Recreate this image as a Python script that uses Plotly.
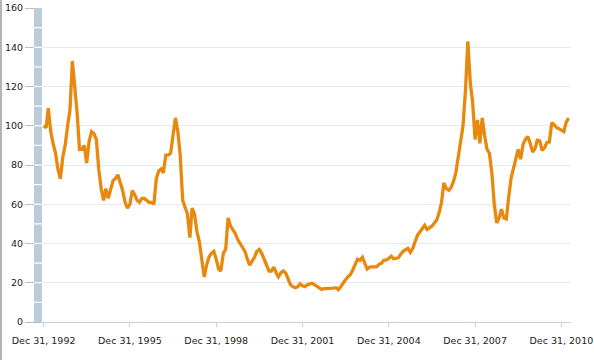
import pandas as pd
import plotly.graph_objects as go

# Monthly index values (month-end), Dec 1992 .. Mar 2011
values = [
    100, 99, 109, 97, 91, 86, 78, 73, 84, 90,
    100, 108, 133, 119, 107, 88, 88, 90, 81, 92,
    97, 96, 93, 78, 68, 62, 68, 63, 68, 72,
    73, 75, 71, 67, 61, 58, 60, 67, 65, 62,
    61, 63, 63, 62, 61, 61, 60, 73, 77, 78,
    76, 85, 85, 86, 94, 104, 97, 85, 62, 58,
    55, 43, 58, 55, 46, 41, 32, 23, 29, 33,
    35, 36, 32, 27, 26, 35, 37, 53, 49, 47,
    45, 42, 40, 38, 36, 32, 29, 31, 33, 36,
    37, 35, 32, 30, 26, 26, 28, 25, 23, 25,
    26, 25, 22, 19, 18, 17.5, 18, 19.5, 18.5, 18,
    19, 19.5, 19.7, 19, 18.3, 17.5, 16.6, 17, 17, 17.3,
    17, 17.3, 17.5, 16.5, 18, 20, 21.5, 23, 24.2, 26.5,
    29.5, 32, 31.5, 33, 30, 27, 28, 28, 27.8, 28.2,
    29.5, 30, 31.5, 31.5, 32.5, 33.5, 32.2, 32.3, 32.7, 34.5,
    36, 36.8, 37.5, 35.5, 37.5, 41, 44.3, 46, 47.5, 49.3,
    47.2, 48, 48.8, 50.3, 52, 55.5, 61, 70.9, 68, 67.1,
    68.5, 71.5, 76, 84, 92, 100, 118, 143, 122, 112,
    93, 103, 91, 104, 95, 88, 86, 76, 60, 50.5,
    53, 57.5, 53, 52.5, 63, 73, 78, 83, 88, 83,
    90.5, 93, 94.5, 91, 86.6, 88.5, 92.6, 92.3, 87.5, 88.8,
    91.5, 91.7, 101.5, 100.5, 99, 98.5, 97.5, 97, 101.5, 104,
]
start_date = "1992-12-31"
try:
    dates = pd.date_range(start_date, periods=len(values), freq="ME")
except Exception:
    dates = pd.date_range(start_date, periods=len(values), freq="M")

tick_dates = ["1992-12-31", "1995-12-31", "1998-12-31", "2001-12-31",
              "2004-12-31", "2007-12-31", "2010-12-31"]
tick_labels = ["Dec 31, 1992", "Dec 31, 1995", "Dec 31, 1998", "Dec 31, 2001",
               "Dec 31, 2004", "Dec 31, 2007", "Dec 31, 2010"]
y_ticks = [0, 20, 40, 60, 80, 100, 120, 140, 160]

W, H = 594, 360
ML, MR, MT, MB = 42, 23, 8, 38
PW = W - ML - MR
PH = H - MT - MB
Y_MAX = 160

fig = go.Figure()
fig.add_trace(go.Scatter(
    x=dates, y=values, mode="lines",
    line=dict(color="#E8890F", width=3.3),
    hoverinfo="skip", showlegend=False,
))

shapes = []
# vertical band left of plot
shapes.append(dict(type="rect", xref="paper", yref="paper",
                   x0=-8 / PW, x1=0, y0=0, y1=1,
                   fillcolor="#BCCBDA", line=dict(width=0), layer="above"))
for v in range(10, Y_MAX, 10):
    shapes.append(dict(type="line", xref="paper", yref="paper",
                       x0=-8 / PW, x1=0, y0=v / Y_MAX, y1=v / Y_MAX,
                       line=dict(color="white", width=1.2), layer="above"))
# left page border
shapes.append(dict(type="rect", xref="paper", yref="paper",
                   x0=-ML / PW, x1=-(ML - 2) / PW, y0=-MB / PH, y1=1 + MT / PH,
                   fillcolor="#B4B4B4", line=dict(width=0), layer="above"))

fig.update_layout(
    width=W, height=H,
    margin=dict(l=ML, r=MR, t=MT, b=MB, pad=0, autoexpand=False),
    paper_bgcolor="white", plot_bgcolor="white",
    font=dict(family="DejaVu Sans", size=9.5, color="#222222"),
    shapes=shapes,
    xaxis=dict(
        type="date", automargin=False,
        range=["1992-12-10", "2011-05-02"],
        tickvals=tick_dates, ticktext=tick_labels,
        showgrid=False, zeroline=False,
        showline=True, linecolor="#C5D0DC", linewidth=1,
        ticks="outside", ticklen=4, tickcolor="#C5D0DC",
        ticklabelstandoff=6,
    ),
    yaxis=dict(
        range=[0, Y_MAX], automargin=False,
        tickvals=y_ticks,
        showgrid=True, gridcolor="#E8E8E8", gridwidth=1,
        zeroline=False, showline=False,
        ticks="outside", ticklen=16, tickcolor="#BBBBBB",
    ),
)

fig.write_html(
    "out.html",
    config={"displayModeBar": False, "staticPlot": True},
    post_script="document.body.style.margin='0';document.body.style.overflow='hidden';",
)
